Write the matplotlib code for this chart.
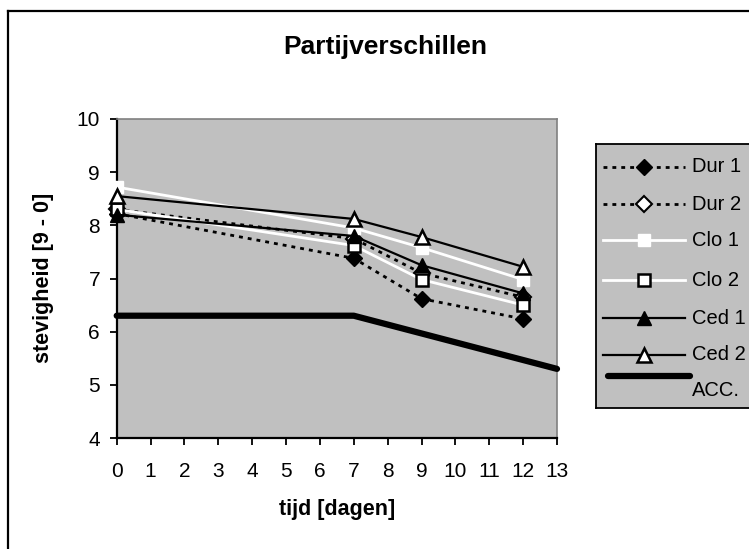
import matplotlib
matplotlib.use("Agg")
import matplotlib.pyplot as plt
from matplotlib.lines import Line2D

plt.rcParams['font.family'] = ['Liberation Sans', 'DejaVu Sans']

days = [0, 7, 9, 12]
dur1 = [8.22, 7.38, 6.62, 6.24]
dur2 = [8.30, 7.75, 7.10, 6.65]
clo1 = [8.72, 7.95, 7.58, 6.98]
clo2 = [8.30, 7.62, 6.98, 6.50]
ced1 = [8.20, 7.80, 7.25, 6.72]
ced2 = [8.55, 8.12, 7.78, 7.22]

acc_days = [0, 7, 13]
acc = [6.3, 6.3, 5.3]

labels = ["Dur 1", "Dur 2", "Clo 1", "Clo 2", "Ced 1", "Ced 2"]
xticks = list(range(0, 14))
yticks = list(range(4, 11))

W, H = 749, 549
fig = plt.figure(figsize=(W / 100, H / 100), dpi=100)

# chart area border (only top and left fall inside the picture)
fig.add_artist(Line2D([8 / W, 1.0], [1 - 11 / H, 1 - 11 / H], color='black', lw=1.6))
fig.add_artist(Line2D([8 / W, 8 / W], [1 - 11 / H, 0.0], color='black', lw=1.6))

ax = fig.add_axes([116.7 / W, 1 - 438 / H, (557 - 116.7) / W, (438 - 119) / H])
ax.set_facecolor('#C0C0C0')

dot = (1.4, 1.8)
styles = [
    dict(color='black', lw=2, dashes=dot, marker='D', ms=8.5, mfc='black', mec='black'),
    dict(color='black', lw=2, dashes=dot, marker='D', ms=8.5, mfc='white', mec='black', mew=1.5),
    dict(color='white', lw=2, marker='s', ms=8, mfc='white', mec='white'),
    dict(color='white', lw=2, marker='s', ms=8, mfc='white', mec='black', mew=1.8),
    dict(color='black', lw=1.6, marker='^', ms=10.5, mfc='black', mec='black'),
    dict(color='black', lw=1.6, marker='^', ms=10.5, mfc='white', mec='black', mew=1.8),
]
series = [dur1, dur2, clo1, clo2, ced1, ced2]

for vals, st in zip(series, styles):
    ax.plot(days, vals, clip_on=False, zorder=3, **st)
acc_style = dict(color='black', lw=4.5, solid_capstyle='round')
ax.plot(acc_days, acc, clip_on=False, zorder=3, **acc_style)

ax.set_xlim(0, 13)
ax.set_ylim(4, 10)
ax.set_xticks(xticks)
ax.set_yticks(yticks)
ax.tick_params(axis='both', direction='out', length=5, width=1.3, labelsize=15, color='black')
ax.tick_params(axis='x', pad=12)
ax.tick_params(axis='y', pad=7)
for s in ['left', 'bottom']:
    ax.spines[s].set_color('black')
    ax.spines[s].set_linewidth(1.6)
for s in ['top', 'right']:
    ax.spines[s].set_color('#808080')
    ax.spines[s].set_linewidth(1.2)

fig.text(385 / W, 1 - 47 / H, "Partijverschillen", ha='center', va='center',
         fontsize=19, fontweight='bold')
fig.text(337 / W, 1 - 510 / H, "tijd [dagen]", ha='center', va='center',
         fontsize=15.5, fontweight='bold')
fig.text(44 / W, 1 - 278 / H, "stevigheid [9 - 0]", ha='center', va='center',
         rotation=90, fontsize=15.5, fontweight='bold')

# legend box, drawn in pixel units
lg = fig.add_axes([596 / W, 1 - 408 / H, 170 / W, 264 / H])
lg.set_xlim(596, 766)
lg.set_ylim(408, 144)
lg.set_facecolor('#C0C0C0')
lg.set_xticks([])
lg.set_yticks([])
for s in lg.spines.values():
    s.set_color('black')
    s.set_linewidth(1.3)

rows = [167, 204, 240, 280, 318, 355]
for y, st, lab in zip(rows, styles, labels):
    st2 = dict(st)
    mk = {k: st2.pop(k) for k in ['marker', 'ms', 'mfc', 'mec', 'mew'] if k in st2}
    lg.plot([603, 685], [y, y], **st2)
    lg.plot([644], [y], ls='none', **mk)
    lg.text(692, y, lab, ha='left', va='center', fontsize=14.5)
lg.plot([608, 690], [376, 376], **acc_style)
lg.text(692, 390, "ACC.", ha='left', va='center', fontsize=14.5)

fig.savefig("out.png", dpi=100)
